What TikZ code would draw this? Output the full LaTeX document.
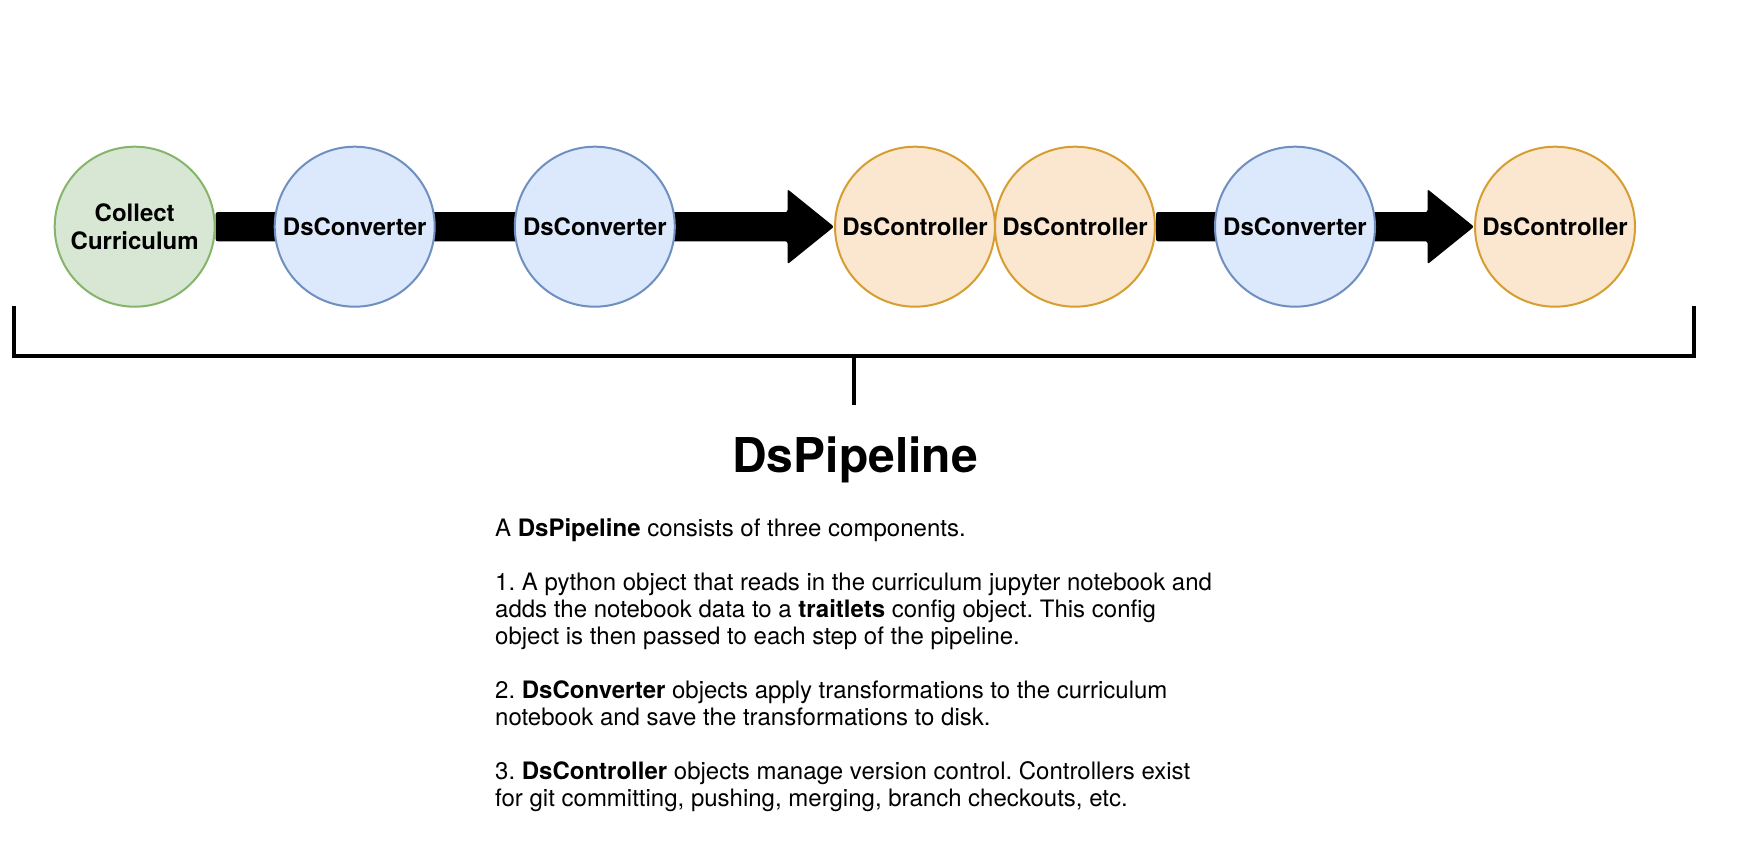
\documentclass[tikz,border=0pt]{standalone}
\usepackage{fontspec}
\setmainfont{TeX Gyre Heros}
\usetikzlibrary{calc,backgrounds}
\definecolor{grnF}{HTML}{D7E7D4}
\definecolor{grnD}{HTML}{86B46A}
\definecolor{bluF}{HTML}{DCE8FB}
\definecolor{bluD}{HTML}{6E8FC0}
\definecolor{orgF}{HTML}{FBE6D0}
\definecolor{orgD}{HTML}{D69E30}
\frenchspacing
\begin{document}
\begin{tikzpicture}[x=1pt,y=-1pt,
  stage/.style={circle, minimum size=160pt, inner sep=0pt, line width=2pt,
    font=\fontsize{24}{27.5}\selectfont\bfseries, align=center, text=black},
  collect/.style={stage, fill=grnF, draw=grnD},
  conv/.style={stage, fill=bluF, draw=bluD},
  ctrl/.style={stage, fill=orgF, draw=orgD},
  flow/.style={fill=black, rounded corners=2pt},
  brk/.style={line width=4pt, line join=miter, line cap=butt},
  body/.style={anchor=base west, inner sep=0pt, align=left,
    font=\fontsize{24}{27}\selectfont},
  heading/.style={anchor=base, inner sep=0pt, font=\fontsize{48}{56}\selectfont\bfseries}]
\useasboundingbox (0,0) rectangle (1760,864);

% stages
\node[collect] (c0) at (134.7,226.7) {Collect\\Curriculum};
\node[conv] (v1) at (354.7,226.7) {DsConverter};
\node[conv] (v2) at (594.8,226.7) {DsConverter};
\node[ctrl] (k1) at (915,226.7) {DsController};
\node[ctrl] (k2) at (1075,226.7) {DsController};
\node[conv] (v3) at (1295,226.7) {DsConverter};
\node[ctrl] (k3) at (1555,226.7) {DsController};

% flow arrows behind the stages
\begin{scope}[on background layer]
  \fill[white] (0,0) rectangle (1760,864);
  \fill[flow] ($(c0.east)+(0,-14.6)$) -- ($(k1.west)+(-46.5,-14.6)$)
    -- ($(k1.west)+(-46.5,-37.5)$) -- (k1.west) -- ($(k1.west)+(-46.5,37.5)$)
    -- ($(k1.west)+(-46.5,14.6)$) -- ($(c0.east)+(0,14.6)$) -- cycle;
  \fill[flow] ($(k2.east)+(0,-14.6)$) -- ($(k3.west)+(-46.5,-14.6)$)
    -- ($(k3.west)+(-46.5,-37.5)$) -- (k3.west) -- ($(k3.west)+(-46.5,37.5)$)
    -- ($(k3.west)+(-46.5,14.6)$) -- ($(k2.east)+(0,14.6)$) -- cycle;
\end{scope}

% bracket
\coordinate (bl) at (14,306);
\coordinate (br) at (1694,306);
\coordinate (bm) at (854,356);
\coordinate (bt) at (854,405);
\draw[brk] (bl) |- (bm) -| (br);
\draw[brk] (bm) -- (bt);

% title and description (each node placed at the baseline of its last line)
\node[heading] (title) at (855,472) {DsPipeline};
\node[body] (p0) at (495,536.5) {A \textbf{DsPipeline} consists of three components.};
\node[body] (p1) at (495,644.5) {1. A python object that reads in the curriculum jupyter notebook and\\adds the notebook data to a \textbf{traitlets} config object. This config\\object is then passed to each step of the pipeline.};
\node[body] (p2) at (495,725.5) {2. \textbf{DsConverter} objects apply transformations to the curriculum\\notebook and save the transformations to disk.};
\node[body] (p3) at (495,806.5) {3. \textbf{DsController} objects manage version control. Controllers exist\\for git committing, pushing, merging, branch checkouts, etc.};
\end{tikzpicture}
\end{document}
